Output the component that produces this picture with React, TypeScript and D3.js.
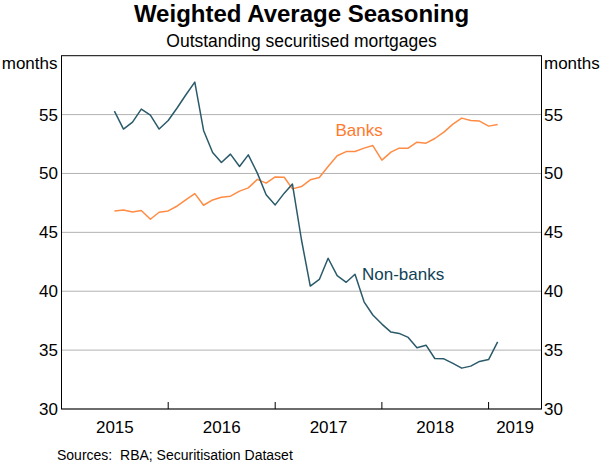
import React from "react";
import * as d3 from "d3";

const months: string[] = [
  "2015-07","2015-08","2015-09","2015-10","2015-11","2015-12",
  "2016-01","2016-02","2016-03","2016-04","2016-05","2016-06","2016-07","2016-08","2016-09","2016-10","2016-11","2016-12",
  "2017-01","2017-02","2017-03","2017-04","2017-05","2017-06","2017-07","2017-08","2017-09","2017-10","2017-11","2017-12",
  "2018-01","2018-02","2018-03","2018-04","2018-05","2018-06","2018-07","2018-08","2018-09","2018-10","2018-11","2018-12",
  "2019-01","2019-02"
];

const banks: number[] = [
  46.82, 46.9, 46.73, 46.85, 46.11, 46.71,
  46.82, 47.24, 47.75, 48.29, 47.3, 47.75, 47.98, 48.07, 48.5, 48.78, 49.5, 49.18,
  49.71, 49.68, 48.69, 48.89, 49.46, 49.65, 50.59, 51.5, 51.86, 51.86, 52.15, 52.37,
  51.13, 51.81, 52.15, 52.15, 52.66, 52.57, 52.97, 53.51, 54.19, 54.7, 54.5, 54.45,
  54.02, 54.16
];

const nonBanks: number[] = [
  55.3, 53.77, 54.36, 55.47, 54.96, 53.77,
  54.5, 55.58, 56.66, 57.76, 53.65, 51.78, 50.93, 51.64, 50.59, 51.58, 50.03, 48.2,
  47.33, 48.33, 49.1, 44.35, 40.44, 41.0, 42.8, 41.32, 40.76, 41.44, 39.1, 37.98,
  37.21, 36.53, 36.42, 36.08, 35.2, 35.42, 34.29, 34.26, 33.87, 33.47, 33.64, 34.04,
  34.2, 35.7
];

const yTicks: number[] = [30, 35, 40, 45, 50, 55];
const yearTicks: number[] = [2016, 2017, 2018, 2019];
const yearLabels: number[] = [2015, 2016, 2017, 2018, 2019];

const W = 603;
const H = 467;
const L = 61.5;
const R = 541.5;
const T = 55.7;
const B = 409;

export default function App() {
  const parse = d3.timeParse("%Y-%m");
  const dates = months.map((m) => parse(m) as Date);
  const x = d3
    .scaleTime()
    .domain([new Date(2015, 0, 1), new Date(2019, 6, 1)])
    .range([L, R]);
  const y = d3.scaleLinear().domain([30, 60]).range([B, T]);

  const line = d3
    .line<number>()
    .x((_, i) => x(dates[i]))
    .y((d) => y(d));

  const font = "'Liberation Sans', Arial, sans-serif";
  const tickSize = 17;

  return (
    <svg width={W} height={H} style={{ position: "absolute", left: 0, top: 0, background: "#fff" }} fontFamily={font}>
      <rect x={0} y={0} width={W} height={H} fill="#fff" />
      <text x={301.5} y={22} textAnchor="middle" fontSize={24} fontWeight="bold" fill="#000">
        Weighted Average Seasoning
      </text>
      <text x={301.5} y={47} textAnchor="middle" fontSize={17.5} fill="#000">
        Outstanding securitised mortgages
      </text>

      {yTicks.map((t) => (
        <line key={"g" + t} x1={L} x2={R} y1={y(t)} y2={y(t)} stroke="#b3b3b3" strokeWidth={1} />
      ))}

      {yearTicks.map((yr) => {
        const xx = x(new Date(yr, 0, 1));
        return <line key={"t" + yr} x1={xx} x2={xx} y1={B} y2={B - 7} stroke="#000" strokeWidth={1} />;
      })}

      <rect x={L} y={T} width={R - L} height={B - T} fill="none" stroke="#000" strokeWidth={1} />

      {yTicks.map((t) => (
        <g key={"l" + t}>
          <text x={58} y={y(t) + 6} textAnchor="end" fontSize={tickSize} fill="#000">
            {t}
          </text>
          <text x={544} y={y(t) + 6} textAnchor="start" fontSize={tickSize} fill="#000">
            {t}
          </text>
        </g>
      ))}
      <text x={57.5} y={69} textAnchor="end" fontSize={tickSize} fill="#000">
        months
      </text>
      <text x={544} y={69} textAnchor="start" fontSize={tickSize} fill="#000">
        months
      </text>

      {yearLabels.map((yr) => {
        const a = x(new Date(yr, 0, 1));
        const b = Math.min(x(new Date(yr + 1, 0, 1)), R);
        return (
          <text key={"y" + yr} x={(a + b) / 2} y={433} textAnchor="middle" fontSize={tickSize} fill="#000">
            {yr}
          </text>
        );
      })}

      <path d={line(banks) || ""} fill="none" stroke="#ff8c45" strokeWidth={1.5} strokeLinejoin="round" />
      <path d={line(nonBanks) || ""} fill="none" stroke="#2a5a6a" strokeWidth={1.5} strokeLinejoin="round" />

      <text x={335.5} y={135.5} fontSize={tickSize} fill="#ff7a2e">
        Banks
      </text>
      <text x={362} y={279.5} fontSize={tickSize} fill="#0f4257">
        Non-banks
      </text>

      <text x={57} y={460} fontSize={14} fill="#000" style={{ whiteSpace: "pre" }}>
        {"Sources:  RBA; Securitisation Dataset"}
      </text>
    </svg>
  );
}
